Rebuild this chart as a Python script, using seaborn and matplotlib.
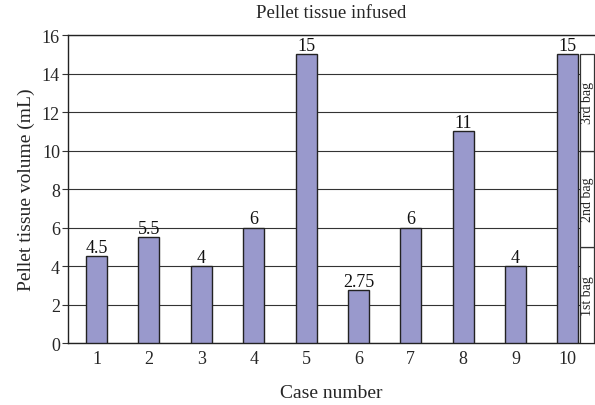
import matplotlib
matplotlib.use("Agg")
import matplotlib.pyplot as plt
import seaborn as sns
import pandas as pd

# ── 数据 ────────────────────────────────────────────────
cases = ["1", "2", "3", "4", "5", "6", "7", "8", "9", "10"]
volumes = [4.5, 5.5, 4, 6, 15, 2.75, 6, 11, 4, 15]
value_labels = ["4.5", "5.5", "4", "6", "15", "2.75", "6", "11", "4", "15"]
bag_names = ["1st bag", "2nd bag", "3rd bag"]
bag_sizes = [5, 5, 5]

sns.set_theme(style="white")
plt.rcParams['font.family'] = ['Liberation Serif', 'DejaVu Serif']

df = pd.DataFrame({"case": cases, "volume": volumes})

fig = plt.figure(figsize=(5.95, 4.06), dpi=100)
ax = fig.add_axes([0.1148, 0.1527, 0.8845, 0.7586])

sns.barplot(data=df, x="case", y="volume", color="#9999CC", saturation=1,
            width=0.4, edgecolor="#222222", linewidth=1.0, ax=ax, zorder=3)

# 数值标签
for i, (v, lab) in enumerate(zip(volumes, value_labels)):
    ax.text(i, v + 0.02, lab, ha="center", va="bottom", fontsize=13, color="#111111")

# 右侧 bag 分段框
bag_x = len(cases) - 1 + 0.366
bottom = 0
for name, size in zip(bag_names, bag_sizes):
    ax.bar(bag_x, size, bottom=bottom, width=0.25, color="white",
           edgecolor="#333333", linewidth=0.9, zorder=3)
    ax.text(bag_x, bottom + size / 2, name, rotation=90, ha="center", va="center",
            fontsize=10, color="#222222", zorder=4)
    bottom += size

ax.set_ylim(0, 16)
ax.set_xlim(-0.54, 9.51)
ax.set_yticks(range(0, 17, 2))
ax.yaxis.grid(True, color="#333333", linewidth=0.8, zorder=0)
ax.set_axisbelow(True)

# x 轴刻度：类别之间的小刻度
ax.set_xticks(range(len(cases)))
ax.set_xticklabels(cases, fontsize=13)
ax.set_xticks([i + 0.5 for i in range(-1, len(cases) - 1)], minor=True)
ax.tick_params(axis="x", which="major", length=0, pad=5)
ax.tick_params(axis="x", which="minor", length=3, width=0.8, color="#333333", direction="out")
ax.tick_params(axis="y", length=4, width=0.8, color="#333333", direction="out", labelsize=13, pad=2)
ax.tick_params(axis="both", bottom=True, left=True)

ax.spines["right"].set_visible(False)
for s in ["left", "bottom", "top"]:
    ax.spines[s].set_color("#222222")
    ax.spines[s].set_linewidth(1.0)

ax.set_xlabel("Case number", fontsize=14, labelpad=12)
ax.set_ylabel("Pellet tissue volume (mL)", fontsize=14, labelpad=5)
ax.set_title("Pellet tissue infused", fontsize=13.5, pad=13)

fig.savefig("out.png", dpi=100)
